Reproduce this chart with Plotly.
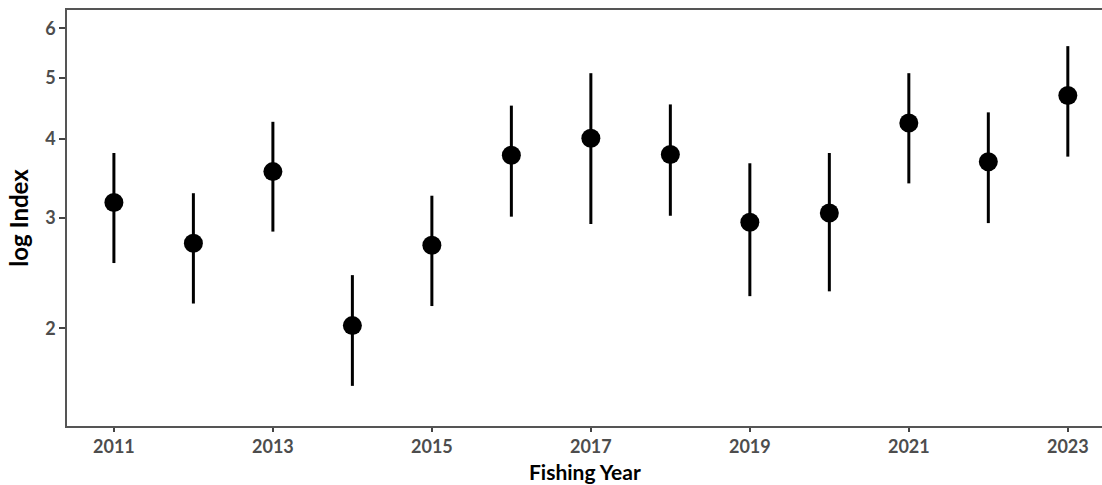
import plotly.graph_objects as go

years = [2011, 2012, 2013, 2014, 2015, 2016, 2017, 2018, 2019, 2020, 2021, 2022, 2023]
index = [3.17, 2.73, 3.55, 2.02, 2.71, 3.77, 4.01, 3.78, 2.95, 3.05, 4.24, 3.68, 4.69]
upper = [3.80, 3.28, 4.26, 2.43, 3.25, 4.52, 5.09, 4.54, 3.66, 3.80, 5.09, 4.41, 5.62]
lower = [2.54, 2.19, 2.85, 1.62, 2.17, 3.01, 2.93, 3.02, 2.25, 2.29, 3.40, 2.94, 3.75]
x_ticks = [2011, 2013, 2015, 2017, 2019, 2021, 2023]
y_ticks = [2, 3, 4, 5, 6]

err_plus = [u - v for u, v in zip(upper, index)]
err_minus = [v - l for v, l in zip(index, lower)]

fig = go.Figure()
fig.add_trace(go.Scatter(
    x=years, y=index, mode="markers",
    marker=dict(color="black", size=19),
    error_y=dict(type="data", array=err_plus, arrayminus=err_minus,
                 symmetric=False, color="black", thickness=3, width=0),
    showlegend=False,
))

tick_font = dict(family="Lato, Open Sans, sans-serif", size=18, color="#4D4D4D", weight="bold")
title_font = dict(family="Lato, Open Sans, sans-serif", size=21, color="black", weight="bold")
ytitle_font = dict(family="Lato, Open Sans, sans-serif", size=24, color="black", weight="bold")

fig.update_layout(
    width=1102, height=485,
    margin=dict(l=67, r=0, t=10, b=59, autoexpand=False),
    paper_bgcolor="white", plot_bgcolor="white",
    xaxis=dict(
        range=[2010.41, 2023.43], tickvals=x_ticks, ticktext=[str(t) for t in x_ticks],
        showgrid=False, zeroline=False, showline=True, linecolor="#555555", linewidth=1.5,
        mirror=True, ticks="outside", ticklen=4, tickwidth=2, tickcolor="#444444",
        tickfont=tick_font, automargin=False,
    ),
    yaxis=dict(
        type="log", range=[0.1457, 0.8072], tickvals=y_ticks, ticktext=[str(t) for t in y_ticks],
        showgrid=False, zeroline=False, showline=True, linecolor="#555555", linewidth=1.5,
        mirror=True, ticks="outside", ticklen=6, tickwidth=2, tickcolor="#444444",
        tickfont=tick_font, automargin=False,
        title=dict(text="log Index", font=ytitle_font, standoff=10),
    ),
    annotations=[dict(
        text="Fishing Year", font=title_font, showarrow=False,
        xref="paper", yref="paper", x=0.5, y=-0.1418,
        xanchor="center", yanchor="bottom", borderpad=0,
    )],
)

fig.write_html(
    "out.html",
    config={"displayModeBar": False},
    post_script="document.body.style.margin='0';document.body.style.overflow='hidden';",
)
